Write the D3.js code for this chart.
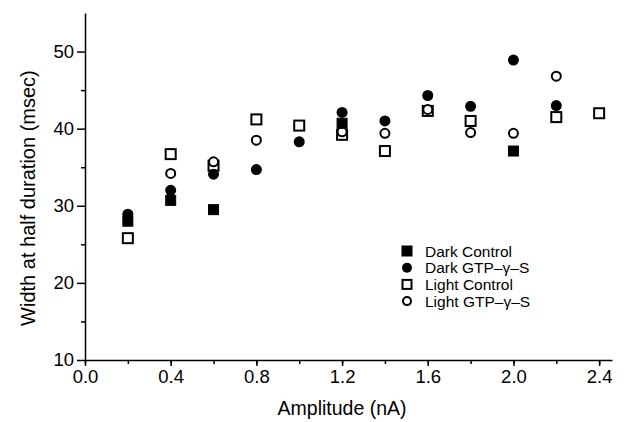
<!DOCTYPE html>
<html>
<head>
<meta charset="utf-8">
<script src="https://cdn.jsdelivr.net/npm/d3@7"></script>
<style>
  body { margin: 0; background: #fff; }
  svg { font-family: "Liberation Sans", Arial, sans-serif; }
</style>
</head>
<body>
<div id="chart"></div>
<script>
// x values (nA) and series values (msec)
const darkControlX = [0.2, 0.4, 0.6, 1.2, 2.0];
const darkControlY = [28.0, 30.7, 29.5, 40.7, 37.1];

const darkGtpX = [0.2, 0.4, 0.6, 0.8, 1.0, 1.2, 1.4, 1.6, 1.8, 2.0, 2.2];
const darkGtpY = [28.9, 32.0, 34.1, 34.7, 38.3, 42.1, 41.0, 44.3, 42.9, 48.9, 43.0];

const lightControlX = [0.2, 0.4, 0.6, 0.8, 1.0, 1.2, 1.4, 1.6, 1.8, 2.2, 2.4];
const lightControlY = [25.8, 36.7, 35.2, 41.2, 40.4, 39.2, 37.1, 42.3, 41.0, 41.5, 42.0];

const lightGtpX = [0.4, 0.6, 0.8, 1.2, 1.4, 1.6, 1.8, 2.0, 2.2];
const lightGtpY = [34.2, 35.7, 38.5, 39.6, 39.4, 42.5, 39.5, 39.4, 46.8];

const seriesNames = ["Dark Control", "Dark GTP\u2013\u03b3\u2013S", "Light Control", "Light GTP\u2013\u03b3\u2013S"];

const xMajorTicks = [0.0, 0.4, 0.8, 1.2, 1.6, 2.0, 2.4];
const yMajorTicks = [10, 20, 30, 40, 50];

const width = 629, height = 422;
const margin = { top: 13, right: 17, bottom: 62, left: 85 };
const plotW = width - margin.left - margin.right;
const plotH = height - margin.top - margin.bottom;

const x = d3.scaleLinear().domain([0, 2.46]).range([0, plotW]);
const y = d3.scaleLinear().domain([10, 55]).range([plotH, 0]);

const svg = d3.select("#chart").append("svg")
    .attr("width", width)
    .attr("height", height);

const g = svg.append("g")
    .attr("transform", `translate(${margin.left},${margin.top})`);

// minor ticks
g.append("g")
    .attr("transform", `translate(0,${plotH})`)
    .call(d3.axisBottom(x).tickValues(d3.range(0, 2.41, 0.2)).tickSize(4).tickFormat(""))
    .call(a => a.select(".domain").remove());
g.append("g")
    .call(d3.axisLeft(y).tickValues(d3.range(15, 55, 10)).tickSize(4).tickFormat(""))
    .call(a => a.select(".domain").remove());

// X axis
g.append("g")
    .attr("transform", `translate(0,${plotH})`)
    .call(d3.axisBottom(x).tickValues(xMajorTicks).tickSize(6).tickSizeOuter(0).tickPadding(4)
        .tickFormat(d3.format(".1f")))
    .call(a => a.selectAll("text").style("font-size", "18.5px"));

// Y axis
g.append("g")
    .call(d3.axisLeft(y).tickValues(yMajorTicks).tickSize(8).tickSizeOuter(0).tickPadding(3))
    .call(a => a.selectAll("text").style("font-size", "18.5px"));

g.selectAll(".domain, .tick line").attr("stroke", "#000").attr("stroke-width", 1.5);
g.selectAll(".tick text").attr("fill", "#000");

// axis titles
svg.append("text")
    .attr("x", margin.left + x(1.2))
    .attr("y", 415)
    .attr("text-anchor", "middle")
    .style("font-size", "19.5px")
    .text("Amplitude (nA)");

svg.append("text")
    .attr("transform", `translate(35,${margin.top + y(31)}) rotate(-90)`)
    .attr("text-anchor", "middle")
    .style("font-size", "20px")
    .text("Width at half duration (msec)");

// markers
const sq = 10, r = 5;
function drawSquares(xs, ys, filled) {
    g.selectAll(null)
        .data(xs.map((d, i) => [d, ys[i]]))
        .enter().append("rect")
        .attr("x", d => x(d[0]) - sq / 2)
        .attr("y", d => y(d[1]) - sq / 2)
        .attr("width", sq)
        .attr("height", sq)
        .attr("fill", filled ? "#000" : "#fff")
        .attr("stroke", "#000")
        .attr("stroke-width", filled ? 1 : 2);
}
function drawCircles(xs, ys, filled) {
    g.selectAll(null)
        .data(xs.map((d, i) => [d, ys[i]]))
        .enter().append("circle")
        .attr("cx", d => x(d[0]))
        .attr("cy", d => y(d[1]))
        .attr("r", filled ? r + 0.5 : r - 0.5)
        .attr("fill", filled ? "#000" : "#fff")
        .attr("stroke", "#000")
        .attr("stroke-width", filled ? 0 : 2);
}
drawSquares(lightControlX, lightControlY, false);
drawCircles(lightGtpX, lightGtpY, false);
drawSquares(darkControlX, darkControlY, true);
drawCircles(darkGtpX, darkGtpY, true);

// legend
const legend = svg.append("g").attr("transform", "translate(407,251)");
seriesNames.forEach((name, i) => {
    const row = legend.append("g").attr("transform", `translate(0,${i * 16.7})`);
    if (i % 2 === 0) {
        row.append("rect")
            .attr("x", -sq / 2 + 0.5).attr("y", -sq / 2 + 0.5)
            .attr("width", sq - 1).attr("height", sq - 1)
            .attr("fill", i === 0 ? "#000" : "#fff")
            .attr("stroke", "#000").attr("stroke-width", 2);
    } else {
        row.append("circle")
            .attr("r", i === 1 ? r : r - 1)
            .attr("fill", i === 1 ? "#000" : "#fff")
            .attr("stroke", "#000").attr("stroke-width", i === 1 ? 0 : 2);
    }
    row.append("text")
        .attr("x", 18)
        .attr("y", 5.5)
        .style("font-size", "15.5px")
        .text(name);
});
</script>
</body>
</html>
